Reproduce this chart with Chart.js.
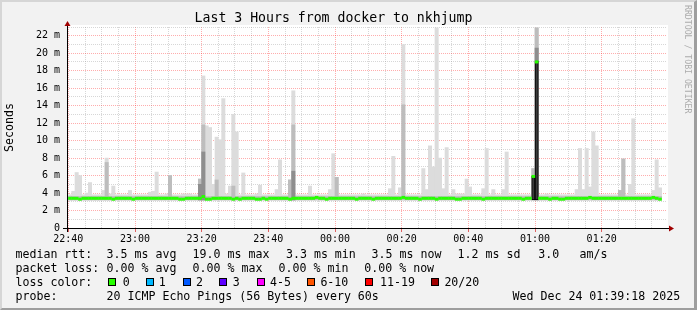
<!DOCTYPE html>
<html>
<head>
<meta charset="utf-8">
<title>Last 3 Hours from docker to nkhjump</title>
<script src="https://cdn.jsdelivr.net/npm/chart.js@4.4.1/dist/chart.umd.min.js"></script>
<style>
  html, body { margin: 0; padding: 0; background: #f2f2f2; }
  #wrap { position: relative; width: 697px; height: 310px; overflow: hidden; background: #f2f2f2; font-family: 'DejaVu Sans Mono', monospace; }
  #frame { position: absolute; left: 0; top: 0; width: 697px; height: 310px; box-sizing: border-box;
           border-top: 2px solid #d6d6d6; border-left: 2px solid #d6d6d6; border-right: 3px solid #9e9e9e; border-bottom: 2px solid #9e9e9e; }
  #chart { position: absolute; left: 0; top: 0; }
  .lg { position: absolute; font-size: 11.6px; line-height: 14px; white-space: pre; color: #000; }
  .box { position: absolute; width: 6px; height: 6px; border: 1px solid #000; }
  #credit { position: absolute; left: 684px; top: 5px; font-size: 8.2px; line-height: 8px; color: #acacac; writing-mode: vertical-rl; white-space: pre; }
</style>
</head>
<body>
<div id="wrap">
  <div id="frame"></div>
  <canvas id="chart" width="697" height="310"></canvas>
  <div id="credit">RRDTOOL / TOBI OETIKER</div>
</div>
<script>
// one value per minute, starting 22:40
const xTickLabels = ['22:40', '23:00', '23:20', '23:40', '00:00', '00:20', '00:40', '01:00', '01:20'];
const yTickLabels = ['0', '2 m', '4 m', '6 m', '8 m', '10 m', '12 m', '14 m', '16 m', '18 m', '20 m', '22 m'];

// median rtt (ms)
const medianRtt = [
  3.4, 3.4, 3.4, 3.3, 3.4, 3.4, 3.4, 3.4, 3.4, 3.4, 3.4, 3.4, 3.4, 3.3, 3.4, 3.4, 3.4, 3.4, 3.4, 3.3,
  3.4, 3.4, 3.4, 3.4, 3.4, 3.4, 3.4, 3.4, 3.4, 3.4, 3.4, 3.4, 3.4, 3.3, 3.3, 3.4, 3.4, 3.4, 3.4, 3.4,
  3.6, 3.3, 3.3, 3.4, 3.4, 3.4, 3.4, 3.4, 3.4, 3.3, 3.4, 3.3, 3.4, 3.4, 3.4, 3.4, 3.3, 3.3, 3.4, 3.3,
  3.4, 3.4, 3.4, 3.4, 3.4, 3.4, 3.3, 3.4, 3.4, 3.4, 3.4, 3.4, 3.4, 3.4, 3.5, 3.4, 3.4, 3.3, 3.4, 3.4,
  3.4, 3.4, 3.4, 3.4, 3.4, 3.4, 3.3, 3.4, 3.4, 3.4, 3.4, 3.3, 3.4, 3.4, 3.4, 3.4, 3.4, 3.4, 3.4, 3.4,
  3.5, 3.4, 3.4, 3.4, 3.4, 3.3, 3.4, 3.4, 3.4, 3.4, 3.3, 3.4, 3.4, 3.4, 3.4, 3.4, 3.3, 3.3, 3.4, 3.4,
  3.4, 3.4, 3.4, 3.4, 3.3, 3.4, 3.4, 3.4, 3.4, 3.4, 3.4, 3.4, 3.4, 3.4, 3.4, 3.4, 3.3, 3.4, 3.4, 5.9,
  19.0, 3.4, 3.4, 3.4, 3.3, 3.4, 3.4, 3.3, 3.3, 3.4, 3.4, 3.4, 3.4, 3.4, 3.4, 3.4, 3.5, 3.4, 3.4, 3.4,
  3.4, 3.4, 3.4, 3.4, 3.4, 3.4, 3.4, 3.4, 3.4, 3.4, 3.4, 3.4, 3.4, 3.4, 3.4, 3.5, 3.4, 3.3
];

// slowest ping of each minute (top of the light smoke)
const smokeMax = [
  3.8, 4.2, 6.35, 6.0, 3.8, 4.0, 5.2, 3.8, 3.8, 3.8, 4.3, 8.0, 3.9, 4.8, 3.8, 3.8, 3.8, 3.8, 4.3, 3.8,
  3.8, 3.8, 3.8, 3.8, 4.1, 4.2, 6.4, 3.8, 3.8, 3.9, 6.0, 3.8, 3.8, 3.8, 3.9, 3.9, 3.9, 3.8, 3.8, 5.6,
  17.4, 11.7, 11.5, 5.0, 10.4, 10.1, 14.8, 3.9, 4.8, 13.0, 11.0, 3.8, 6.3, 3.8, 3.8, 3.8, 3.9, 4.9, 3.8, 3.8,
  3.8, 3.8, 4.4, 7.8, 3.8, 3.8, 5.5, 15.7, 3.8, 3.8, 3.8, 3.8, 4.8, 3.8, 3.8, 3.8, 3.8, 3.8, 4.4, 8.5,
  5.8, 3.8, 3.8, 3.8, 3.8, 3.8, 3.8, 3.8, 3.9, 3.8, 3.8, 3.8, 3.8, 3.8, 3.8, 3.8, 4.5, 8.2, 3.8, 4.6,
  21.0, 3.8, 3.8, 3.8, 3.8, 3.8, 6.8, 4.4, 9.4, 7.0, 22.9, 8.0, 4.5, 9.2, 3.8, 4.4, 3.9, 3.9, 3.9, 5.6,
  4.7, 3.8, 3.8, 3.8, 4.5, 9.1, 3.8, 4.4, 3.8, 3.8, 4.4, 8.7, 3.8, 3.8, 3.8, 3.8, 3.8, 3.8, 3.8, 6.8,
  22.9, 3.8, 3.8, 3.9, 3.8, 3.8, 3.8, 3.8, 3.8, 3.8, 3.8, 3.8, 4.4, 9.1, 4.4, 9.1, 4.7, 11.0, 9.4, 3.8,
  3.8, 3.8, 3.8, 3.8, 3.8, 4.3, 7.9, 3.8, 5.0, 12.5, 3.8, 3.8, 3.8, 3.8, 3.8, 4.3, 7.8, 4.6
];

// top of the denser middle smoke
const smokeMid = [
  3.6, 3.6, 3.6, 3.6, 3.6, 3.6, 3.6, 3.6, 3.6, 3.6, 3.6, 7.5, 3.6, 3.6, 3.6, 3.6, 3.6, 3.6, 3.6, 3.6,
  3.6, 3.6, 3.6, 3.6, 3.6, 3.6, 3.6, 3.6, 3.6, 3.6, 6.0, 3.6, 3.6, 3.6, 3.6, 3.6, 3.6, 3.6, 3.6, 5.6,
  11.8, 3.6, 3.6, 3.6, 5.5, 3.6, 3.6, 3.6, 3.6, 4.8, 3.6, 3.6, 3.6, 3.6, 3.6, 3.6, 3.6, 3.6, 3.6, 3.6,
  3.6, 3.6, 3.6, 3.6, 3.6, 3.6, 5.5, 11.8, 3.6, 3.6, 3.6, 3.6, 3.6, 3.6, 3.6, 3.6, 3.6, 3.6, 3.6, 3.6,
  5.8, 3.6, 3.6, 3.6, 3.6, 3.6, 3.6, 3.6, 3.6, 3.6, 3.6, 3.6, 3.6, 3.6, 3.6, 3.6, 3.6, 3.6, 3.6, 3.6,
  14.1, 3.6, 3.6, 3.6, 3.6, 3.6, 3.6, 3.6, 3.6, 3.6, 3.6, 3.6, 3.6, 3.6, 3.6, 3.6, 3.6, 3.6, 3.6, 3.6,
  3.6, 3.6, 3.6, 3.6, 3.6, 3.6, 3.6, 3.6, 3.6, 3.6, 3.6, 3.6, 3.6, 3.6, 3.6, 3.6, 3.6, 3.6, 3.6, 6.8,
  22.9, 3.6, 3.6, 3.6, 3.6, 3.6, 3.6, 3.6, 3.6, 3.6, 3.6, 3.6, 3.6, 3.6, 3.6, 3.6, 3.6, 3.6, 3.6, 3.6,
  3.6, 3.6, 3.6, 3.6, 3.6, 4.3, 7.9, 3.6, 3.6, 3.6, 3.6, 3.6, 3.6, 3.6, 3.6, 3.6, 3.6, 3.6
];

// minutes with thick smoke
const denseAt = [39, 40, 67, 140];
const denseTop = [5.0, 8.7, 6.5, 20.6];
const coreAt = [139, 140];
const coreTop = [5.9, 19.1];
const smokeFloor = 3.2;

// legend
const rttStats = ['3.5 ms avg', '19.0 ms max', '3.3 ms min', '3.5 ms now', '1.2 ms sd', '3.0', 'am/s'];
const lossStats = ['0.00 % avg', '0.00 % max', '0.00 % min', '0.00 % now'];
const lossLabels = ['0', '1', '2', '3', '4-5', '6-10', '11-19', '20/20'];
const lossColors = ['#26ff00', '#00b8ff', '#0059ff', '#5e00ff', '#ff00ff', '#ff5500', '#ff0000', '#a10000'];
const probeText = '20 ICMP Echo Pings (56 Bytes) every 60s';
const stampText = 'Wed Dec 24 01:39:18 2025';

const majorGrid = 'rgba(255, 0, 0, 0.32)';
const minorGrid = 'rgba(150, 150, 150, 0.38)';

const xGrid = [];
for (let m = 0; m < 180; m += 5) xGrid.push(m);
const yGrid = [];
for (let v = 0; v <= 23; v++) yGrid.push(v);

const floating = (tops) => tops.map((t, i) => ({ x: i + 0.5, y: [smokeFloor, t] }));

const rrdFrame = {
    id: 'rrdFrame',
    beforeDraw(chart) {
        const a = chart.chartArea;
        const c = chart.ctx;
        c.save();
        c.fillStyle = '#ffffff';
        c.fillRect(a.left, a.top - 2, a.right - a.left + 1, a.bottom - a.top + 2);
        c.restore();
    },
    afterDatasetsDraw(chart) {
        const a = chart.chartArea;
        const c = chart.ctx;
        const yb = Math.floor(chart.scales.y.getPixelForValue(0)) + 0.5;
        const xl = Math.floor(a.left) + 0.5;
        c.save();
        c.strokeStyle = '#000';
        c.lineWidth = 1;
        c.beginPath();
        c.moveTo(a.left - 4, yb); c.lineTo(a.right + 3, yb);
        c.moveTo(xl, a.bottom + 4); c.lineTo(xl, a.top - 3);
        c.stroke();
        c.fillStyle = '#a00000';
        c.beginPath();
        c.moveTo(a.right + 2, yb - 3); c.lineTo(a.right + 7, yb); c.lineTo(a.right + 2, yb + 3);
        c.closePath(); c.fill();
        c.beginPath();
        c.moveTo(xl - 3, a.top - 1); c.lineTo(xl, a.top - 6); c.lineTo(xl + 3, a.top - 1);
        c.closePath(); c.fill();
        c.restore();
    }
};

Chart.defaults.font.family = "'DejaVu Sans Mono', monospace";

const ctx = document.getElementById('chart').getContext('2d');
new Chart(ctx, {
    type: 'bar',
    data: {
        datasets: [
            {
                type: 'line',
                label: 'median rtt',
                data: medianRtt.map((v, i) => ({ x: i + 0.5, y: v })),
                showLine: false,
                pointStyle: 'line',
                pointRadius: 1.8,
                pointBorderWidth: 3,
                pointBorderColor: '#26ff00',
                pointBackgroundColor: '#26ff00',
                order: 0
            },
            {
                label: 'core',
                data: coreAt.map((m, k) => ({ x: m + 0.5, y: [smokeFloor, coreTop[k]] })),
                backgroundColor: '#3b3b3b',
                borderColor: '#000',
                borderWidth: 1,
                borderSkipped: false,
                order: 1
            },
            {
                label: 'dense',
                data: denseAt.map((m, k) => ({ x: m + 0.5, y: [smokeFloor, denseTop[k]] })),
                backgroundColor: '#8e8e8e',
                order: 2
            },
            {
                label: 'smoke mid',
                data: floating(smokeMid),
                backgroundColor: '#bdbdbd',
                order: 3
            },
            {
                label: 'smoke max',
                data: floating(smokeMax),
                backgroundColor: '#dcdcdc',
                order: 4
            }
        ]
    },
    options: {
        responsive: false,
        animation: false,
        events: [],
        layout: { padding: { left: 0, right: 30, top: 0, bottom: 0 } },
        datasets: { bar: { grouped: false, barPercentage: 1, categoryPercentage: 1 } },
        plugins: {
            legend: { display: false },
            tooltip: { enabled: false },
            title: {
                display: true,
                text: 'Last 3 Hours from docker to nkhjump',
                color: '#000',
                font: { size: 13.2, weight: 'normal' },
                padding: { top: 11, bottom: 0.16 }
            }
        },
        scales: {
            x: {
                type: 'linear',
                min: -0.4,
                max: 179.6,
                offset: false,
                afterBuildTicks: s => { s.ticks = xGrid.map(v => ({ value: v })); },
                afterFit: s => { s.height = 82; },
                grid: {
                    offset: false,
                    lineWidth: 1,
                    color: c => (c.tick && c.tick.value % 20 === 0) ? majorGrid : minorGrid,
                    drawTicks: true,
                    tickLength: 4,
                    tickColor: c => (c.tick && c.tick.value % 20 === 0) ? '#e06060' : 'rgba(0,0,0,0)'
                },
                border: { display: false, dash: [1, 1] },
                ticks: {
                    autoSkip: false,
                    maxRotation: 0,
                    padding: 1,
                    color: '#000',
                    font: { size: 10 },
                    callback: v => (v % 20 === 0) ? xTickLabels[v / 20] : ''
                }
            },
            y: {
                min: 0,
                max: 23,
                afterBuildTicks: s => { s.ticks = yGrid.map(v => ({ value: v })); },
                afterFit: s => { s.width = 67; },
                grid: {
                    lineWidth: 1,
                    color: c => (c.tick && c.tick.value % 2 === 0) ? majorGrid : minorGrid,
                    drawTicks: false
                },
                border: { display: false, dash: [1, 1] },
                ticks: {
                    autoSkip: false,
                    padding: 7,
                    color: '#000',
                    font: { size: 10 },
                    callback: v => (v % 2 === 0) ? yTickLabels[v / 2] : ''
                },
                title: {
                    display: true,
                    text: 'Seconds',
                    color: '#000',
                    font: { size: 11.6 },
                    padding: { top: 3, bottom: 0 }
                }
            }
        }
    },
    plugins: [rrdFrame]
});

// legend rows under the graph
const wrap = document.getElementById('wrap');
function addText(text, x, top) {
    const d = document.createElement('div');
    d.className = 'lg';
    d.textContent = text;
    d.style.left = x + 'px';
    d.style.top = top + 'px';
    wrap.appendChild(d);
}
const rowTop = [247, 261, 275, 289];
const rttX = [106.6, 192.6, 286, 371.6, 457.6, 538.3, 579.6];
const lossX = [106.6, 192.6, 278.6, 364.3];
const boxX = [108, 145.5, 182.5, 219, 256.5, 307, 365, 430.5];
const lossLabelX = [122.7, 158.7, 196.1, 232.7, 270.1, 320.4, 380.1, 444.4];

addText('median rtt:', 15.5, rowTop[0]);
rttStats.forEach((t, i) => addText(t, rttX[i], rowTop[0]));
addText('packet loss:', 15.5, rowTop[1]);
lossStats.forEach((t, i) => addText(t, lossX[i], rowTop[1]));
addText('loss color:', 15.5, rowTop[2]);
lossLabels.forEach((t, i) => {
    const b = document.createElement('div');
    b.className = 'box';
    b.style.left = boxX[i] + 'px';
    b.style.top = '278px';
    b.style.background = lossColors[i];
    wrap.appendChild(b);
    addText(t, lossLabelX[i], rowTop[2]);
});
addText('probe:', 15.5, rowTop[3]);
addText(probeText, 106.6, rowTop[3]);
addText(stampText, 512.6, rowTop[3]);
</script>
</body>
</html>
